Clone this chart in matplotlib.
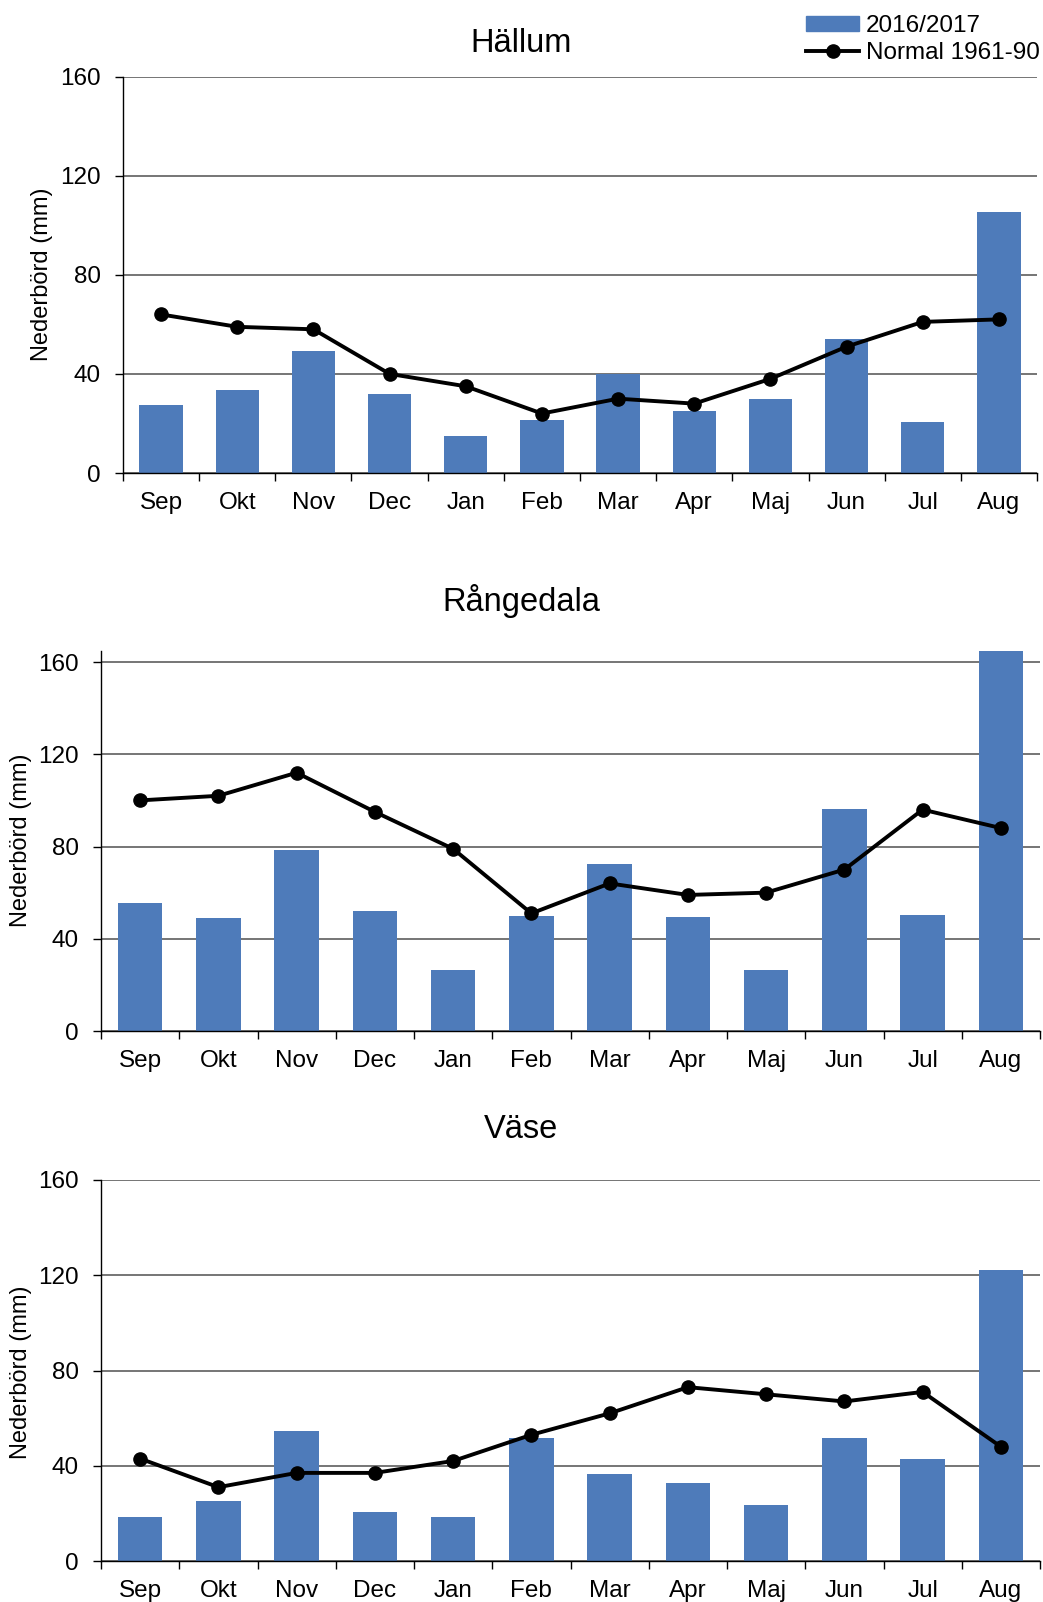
import matplotlib
matplotlib.use('Agg')
import matplotlib.pyplot as plt
from matplotlib.lines import Line2D
from matplotlib.patches import Patch
import numpy as np

plt.rcParams['font.family'] = ['Liberation Sans', 'DejaVu Sans']

months = ['Sep', 'Okt', 'Nov', 'Dec', 'Jan', 'Feb', 'Mar', 'Apr', 'Maj', 'Jun', 'Jul', 'Aug']

# nederbörd 2016/2017 (mm)
hallum_1617 = [27.5, 33.5, 49.2, 31.7, 14.9, 21.5, 39.8, 25.0, 29.8, 53.9, 20.7, 105.3]
rangedala_1617 = [55.6, 49.0, 78.6, 52.2, 26.3, 49.7, 72.3, 49.6, 26.4, 96.3, 50.3, 165.5]
vase_1617 = [18.4, 25.1, 54.8, 20.5, 18.6, 51.7, 36.6, 32.6, 23.4, 51.7, 42.7, 122.3]

# normalvärden 1961-90 (mm)
hallum_norm = [64, 59, 58, 40, 35, 24, 30, 28, 38, 51, 61, 62]
rangedala_norm = [100, 102, 112, 95, 79, 51, 64, 59, 60, 70, 96, 88]
vase_norm = [43, 31, 37, 37, 42, 53, 62, 73, 70, 67, 71, 48]

stations = ['Hällum', 'Rångedala', 'Väse']

BAR_COLOR = '#4E7BBA'
W, H = 1043, 1602

fig = plt.figure(figsize=(W / 100, H / 100), dpi=100)

# axes rectangles in pixels: left, right, top(ymax), bottom(0)
boxes = [(123, 1037, 76.6, 473, 160),
         (101, 1040, 650.5, 1031, 165),
         (101, 1040, 1180, 1561, 160)]
title_y = [43, 601, 1129]
ylabel_pos = [(42, 274), (21, 840), (21, 1372)]

bars_data = [hallum_1617, rangedala_1617, vase_1617]
norm_data = [hallum_norm, rangedala_norm, vase_norm]

x = np.arange(len(months))
for i, (l, r, t, b, ymax) in enumerate(boxes):
    ax = fig.add_axes([l / W, 1 - b / H, (r - l) / W, (b - t) / H])
    ax.bar(x, bars_data[i], width=0.57, color=BAR_COLOR, zorder=2)
    ax.plot(x, norm_data[i], color='black', lw=2.8, marker='o', ms=9.5, zorder=3)
    ax.set_xlim(-0.5, 11.5)
    ax.set_ylim(0, ymax)
    ax.set_yticks([0, 40, 80, 120, 160])
    ax.yaxis.grid(True, color='#505050', lw=1.1, zorder=1)
    ax.set_axisbelow(True)
    for s in ['top', 'right']:
        ax.spines[s].set_visible(False)
    ax.spines['left'].set_linewidth(1.0)
    ax.spines['bottom'].set_linewidth(1.0)
    ax.set_xticks(np.arange(-0.5, 12, 1))
    ax.set_xticklabels([])
    ax.set_xticks(x, minor=True)
    ax.set_xticklabels(months, minor=True, fontsize=17.5)
    ax.tick_params(axis='x', which='major', direction='out', length=6, width=1)
    ax.tick_params(axis='x', which='minor', length=0, pad=14)
    ax.tick_params(axis='y', direction='out', length=6, width=1, labelsize=17.5, pad=10)

    fig.text(521 / W, 1 - title_y[i] / H, stations[i], fontsize=23.5,
             ha='center', va='center')
    fig.text(ylabel_pos[i][0] / W, 1 - ylabel_pos[i][1] / H, 'Nederbörd (mm)',
             fontsize=17, rotation=90, ha='center', va='center')

handles = [Patch(color=BAR_COLOR),
           Line2D([], [], color='black', lw=2.8, marker='o', ms=9.5)]
fig.legend(handles, ['2016/2017', 'Normal 1961-90'], loc='upper left',
           bbox_to_anchor=(806 / W, 1 - 15 / H), frameon=False, fontsize=17.5,
           handlelength=2.2, handleheight=0.55, handletextpad=0.25,
           labelspacing=0.2, borderpad=0, borderaxespad=0)

fig.savefig('out.png', dpi=100)
